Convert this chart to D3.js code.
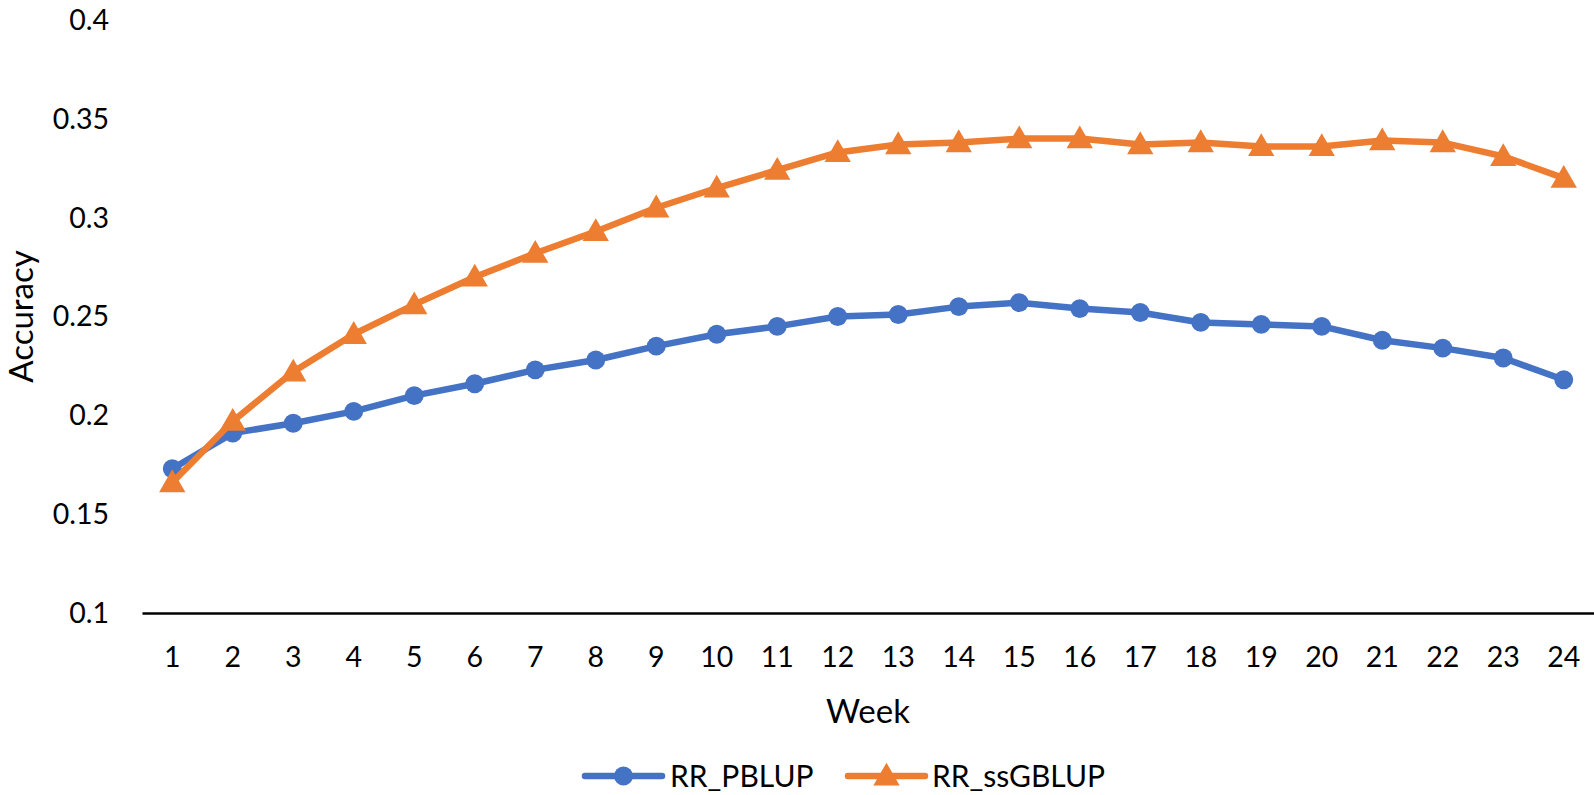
<!DOCTYPE html>
<html>
<head>
<meta charset="utf-8">
<script src="https://cdnjs.cloudflare.com/ajax/libs/d3/7.8.5/d3.min.js"></script>
<style>
  body { margin: 0; background: #fff; }
  svg text { font-family: Lato, "Open Sans", sans-serif; fill: #000; }
</style>
</head>
<body>
<div id="plot"></div>
<script>
// data
var weeks = d3.range(1, 25).map(String);
var pblup = [0.173, 0.191, 0.196, 0.202, 0.210, 0.216, 0.223, 0.228, 0.235, 0.241,
             0.245, 0.250, 0.251, 0.255, 0.257, 0.254, 0.252, 0.247, 0.246, 0.245,
             0.238, 0.234, 0.229, 0.218];
var ssgblup = [0.166, 0.197, 0.222, 0.241, 0.256, 0.270, 0.282, 0.293, 0.305, 0.315,
               0.324, 0.333, 0.337, 0.338, 0.340, 0.340, 0.337, 0.338, 0.336, 0.336,
               0.339, 0.338, 0.331, 0.320];
var yTicks = [0.1, 0.15, 0.2, 0.25, 0.3, 0.35, 0.4];

var W = 1594, H = 795;
var margin = {t:20, r:0, b:182, l:142};

var svg = d3.select('#plot').append('svg')
    .attr('width', W)
    .attr('height', H);

var x = d3.scaleBand().domain(weeks).range([margin.l, W - margin.r]);
var y = d3.scaleLinear().domain([0.1, 0.4]).range([H - margin.b, margin.t]);

var fs = 28.5;   // tick labels
var fsLeg = 30;  // legend
var fsTitle = 33;

// y tick labels (no axis line in the original)
svg.append('g').selectAll('text')
    .data(yTicks)
    .enter().append('text')
    .attr('x', 109)
    .attr('y', function(d){ return y(d); })
    .attr('dy', '0.35em')
    .attr('text-anchor', 'end')
    .style('font-size', fs + 'px')
    .text(function(d){ return d3.format('~g')(d); });

// x axis
var xAxis = svg.append('g')
    .attr('transform', 'translate(0,' + y(0.1) + ')')
    .call(d3.axisBottom(x).tickSize(0).tickPadding(30));
xAxis.select('.domain').attr('stroke', '#000').attr('stroke-width', 2.5);
xAxis.selectAll('text')
    .style('font-size', fs + 'px')
    .style('font-family', 'Lato, sans-serif')
    .attr('dy', '0.35em')
    .attr('y', 44);

// axis titles
svg.append('text')
    .attr('transform', 'translate(21,' + ((margin.t + H - margin.b) / 2) + ') rotate(-90)')
    .attr('text-anchor', 'middle')
    .attr('dy', '0.35em')
    .style('font-size', fsTitle + 'px')
    .text('Accuracy');

svg.append('text')
    .attr('x', (margin.l + W - margin.r) / 2)
    .attr('y', 711)
    .attr('text-anchor', 'middle')
    .attr('dy', '0.35em')
    .style('font-size', fsTitle + 'px')
    .text('Week');

var series = [
    {name:'RR_PBLUP', values:pblup, color:'#4472C4', marker:d3.symbolCircle},
    {name:'RR_ssGBLUP', values:ssgblup, color:'#ED7D31', marker:d3.symbolTriangle}
];

var line = d3.line()
    .x(function(d, i){ return x(weeks[i]) + x.bandwidth() / 2; })
    .y(function(d){ return y(d); });

series.forEach(function(s) {
    var g = svg.append('g');
    g.append('path')
        .attr('d', line(s.values))
        .attr('fill', 'none')
        .attr('stroke', s.color)
        .attr('stroke-width', 6.5)
        .attr('stroke-linejoin', 'round');
    g.selectAll('.pt')
        .data(s.values)
        .enter().append('path')
        .attr('class', 'pt')
        .attr('d', d3.symbol().type(s.marker).size(s.marker === d3.symbolCircle ? 280 : 300))
        .attr('transform', function(d, i){
            var cy = y(d) + (s.marker === d3.symbolTriangle ? 2 : 0);
            return 'translate(' + (x(weeks[i]) + x.bandwidth() / 2) + ',' + cy + ')';
        })
        .attr('fill', s.color);
});

// legend
var legendItems = [
    {s:series[0], x0:585, x1:662, tx:670},
    {s:series[1], x0:848, x1:925, tx:932}
];
var ly = 776;
legendItems.forEach(function(l) {
    var g = svg.append('g');
    g.append('line')
        .attr('x1', l.x0).attr('x2', l.x1)
        .attr('y1', ly).attr('y2', ly)
        .attr('stroke', l.s.color)
        .attr('stroke-width', 6.5)
        .attr('stroke-linecap', 'round');
    g.append('path')
        .attr('d', d3.symbol().type(l.s.marker).size(l.s.marker === d3.symbolCircle ? 280 : 300))
        .attr('transform', 'translate(' + ((l.x0 + l.x1) / 2) + ',' + (ly + (l.s.marker === d3.symbolTriangle ? 2 : 0)) + ')')
        .attr('fill', l.s.color);
    g.append('text')
        .attr('x', l.tx)
        .attr('y', ly)
        .attr('dy', '0.35em')
        .style('font-size', fsLeg + 'px')
        .text(l.s.name);
});
</script>
</body>
</html>
